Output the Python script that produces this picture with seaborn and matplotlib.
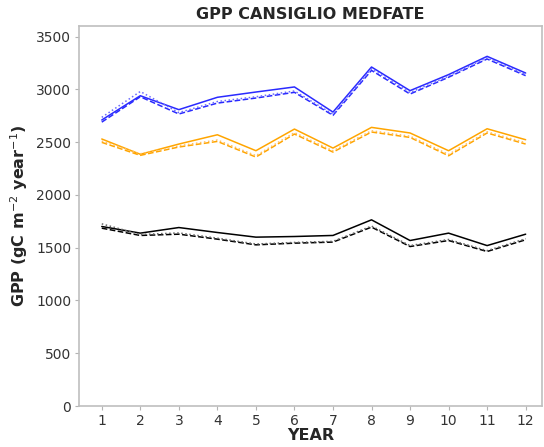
import matplotlib
matplotlib.use("Agg")
import matplotlib.pyplot as plt
import seaborn as sns
import pandas as pd

years = [1, 2, 3, 4, 5, 6, 7, 8, 9, 10, 11, 12]

blue_solid = [2710, 2940, 2808, 2925, 2975, 3023, 2785, 3212, 2988, 3140, 3313, 3155]
blue_dashed = [2690, 2930, 2767, 2870, 2918, 2972, 2754, 3180, 2956, 3115, 3288, 3130]
blue_dotted = [2735, 2980, 2780, 2885, 2930, 2985, 2765, 3195, 2970, 3125, 3300, 3140]

orange_solid = [2530, 2385, 2482, 2570, 2419, 2624, 2444, 2640, 2587, 2419, 2627, 2523]
orange_dashed = [2498, 2375, 2454, 2507, 2359, 2577, 2406, 2596, 2545, 2371, 2587, 2482]
orange_dotted = [2510, 2390, 2465, 2520, 2372, 2590, 2418, 2608, 2556, 2384, 2598, 2494]

black_solid = [1701, 1638, 1691, 1644, 1600, 1606, 1616, 1764, 1568, 1638, 1520, 1628]
black_dashed = [1685, 1616, 1628, 1581, 1527, 1543, 1553, 1695, 1511, 1568, 1464, 1575]
black_dotted = [1726, 1625, 1640, 1590, 1535, 1550, 1560, 1705, 1520, 1578, 1472, 1585]

y_ticks = [0, 500, 1000, 1500, 2000, 2500, 3000, 3500]

series = [
    (blue_solid, "#2a2aff", "-"),
    (blue_dashed, "#2a2aff", "--"),
    (blue_dotted, "#6a6aff", ":"),
    (orange_solid, "orange", "-"),
    (orange_dashed, "orange", "--"),
    (orange_dotted, "#ffc060", ":"),
    (black_solid, "black", "-"),
    (black_dashed, "black", "--"),
    (black_dotted, "0.4", ":"),
]

sns.set_style("white")
plt.rcParams["font.family"] = ["DejaVu Sans"]

fig = plt.figure(figsize=(5.44, 4.47), dpi=100)
ax = fig.add_axes([0.146, 0.0917, 0.85, 0.850])

for vals, color, ls in series:
    df = pd.DataFrame({"YEAR": years, "GPP": vals})
    sns.lineplot(data=df, x="YEAR", y="GPP", color=color, linestyle=ls,
                 linewidth=1.1, ax=ax)

ax.set_xlim(0.42, 12.42)
ax.set_ylim(0, 3600)
ax.set_xticks(years)
ax.set_yticks(y_ticks)
ax.tick_params(axis="both", which="major", bottom=True, left=True,
               length=3, width=0.8, color="0.7", labelsize=10, labelcolor="0.2",
               pad=3)
for sp in ax.spines.values():
    sp.set_color("0.75")
    sp.set_linewidth(1.2)

ax.set_title("GPP CANSIGLIO MEDFATE", fontsize=11.5, fontweight="bold", pad=5)
ax.set_xlabel("YEAR", fontsize=11.5, fontweight="bold", labelpad=0)
ax.set_ylabel("GPP (gC m$^{-2}$ year$^{-1}$)", fontsize=11.5, fontweight="bold",
              labelpad=4)

fig.savefig("out.png", dpi=100)
